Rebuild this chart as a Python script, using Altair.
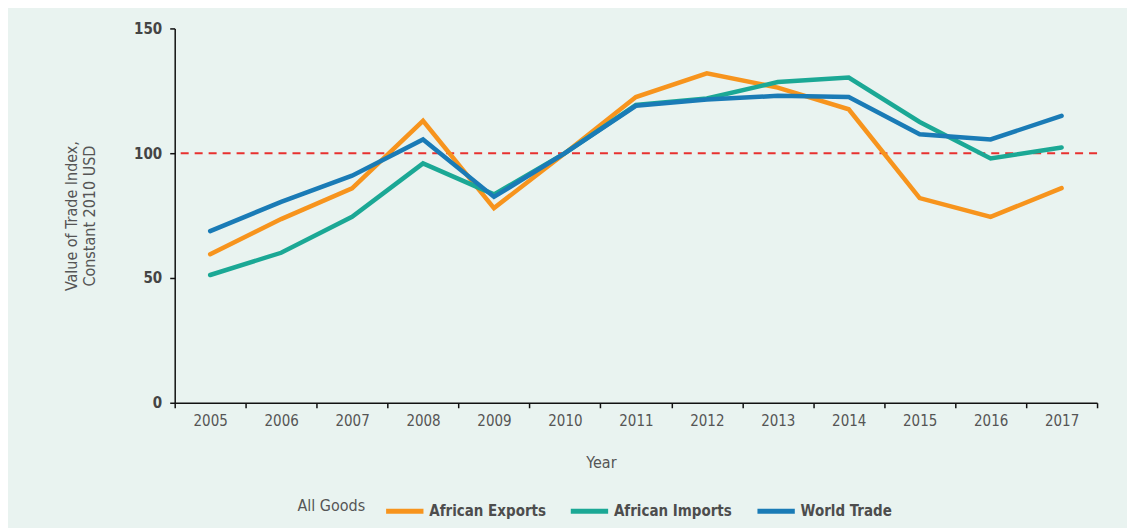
import altair as alt
import pandas as pd

years = [2005, 2006, 2007, 2008, 2009, 2010, 2011, 2012, 2013, 2014, 2015, 2016, 2017]
african_exports = [59.5, 73.6, 85.9, 113.0, 78.0, 100.0, 122.5, 132.0, 126.3, 117.6, 82.0, 74.5, 86.0]
african_imports = [51.2, 60.1, 74.5, 95.9, 83.5, 100.0, 119.3, 121.9, 128.5, 130.3, 112.5, 97.9, 102.3]
world_trade = [68.8, 80.5, 91.0, 105.5, 82.5, 100.0, 119.0, 121.5, 123.0, 122.5, 107.6, 105.5, 115.0]
series_names = ["African Exports", "African Imports", "World Trade"]
series_colors = ["#f7941d", "#1ba895", "#1a7bb6"]
reference_value = [100]

rows = []
for name, vals in zip(series_names, [african_exports, african_imports, world_trade]):
    for y, v in zip(years, vals):
        rows.append({"Year": str(y), "Value": v, "Series": name})
df = pd.DataFrame(rows)
ref = pd.DataFrame({"ref": reference_value})

FONT = "Liberation Sans Narrow, DejaVu Sans Condensed, Liberation Sans, sans-serif"

lines = alt.Chart(df).mark_line(strokeWidth=4.5, strokeCap="round").encode(
    x=alt.X(
        "Year:O",
        bandPosition=0.5,
        scale=alt.Scale(type="band", paddingInner=0, paddingOuter=0),
        axis=alt.Axis(
            title="Year",
            labelAngle=0,
            tickBand="extent",
            labelFontSize=15,
            labelColor="#555555",
            labelPadding=6,
            titleFontSize=16,
            titleFontWeight="normal",
            titleColor="#555555",
            titlePadding=26,
            titleX=427,
            domainColor="#111111",
            tickColor="#111111",
            domainWidth=1.5,
            tickWidth=1.5,
            tickSize=5,
        ),
    ),
    y=alt.Y(
        "Value:Q",
        scale=alt.Scale(domain=[0, 150], nice=False),
        axis=alt.Axis(
            title=["Value of Trade Index,", "Constant 2010 USD"],
            values=[0, 50, 100, 150],
            grid=False,
            labelFontSize=15,
            labelFontWeight="bold",
            labelColor="#444444",
            labelPadding=8,
            titleFontSize=16,
            titleFontWeight="normal",
            titleColor="#555555",
            titlePadding=36,
            domainColor="#111111",
            tickColor="#111111",
            domainWidth=1.5,
            tickWidth=1.5,
            tickSize=5,
        ),
    ),
    color=alt.Color(
        "Series:N",
        scale=alt.Scale(domain=series_names, range=series_colors),
        legend=alt.Legend(
            title="All Goods",
            orient="none",
            legendX=123,
            legendY=462,
            direction="horizontal",
            titleOrient="left",
            titleBaseline="middle",
            titleFontSize=16,
            titleFontWeight="normal",
            titleColor="#555555",
            titlePadding=18,
            labelFontSize=15,
            labelFontWeight="bold",
            labelColor="#4d4d4d",
            labelOffset=3,
            symbolType="stroke",
            symbolSize=1400,
            symbolStrokeWidth=5,
            columnPadding=14,
        ),
    ),
)

rule = alt.Chart(ref).mark_rule(color="#e8312f", strokeWidth=2, strokeDash=[8, 6]).encode(
    y=alt.Y("ref:Q")
)

chart = alt.layer(rule, lines).properties(
    width=924,
    height=375,
    background="#e9f3f0",
    autosize=alt.AutoSizeParams(type="none"),
    padding={"left": 167, "top": 20, "right": 30, "bottom": 125},
).configure(font=FONT).configure_view(stroke=None)

chart.save("out.html", embed_options={"renderer": "svg", "actions": False})
